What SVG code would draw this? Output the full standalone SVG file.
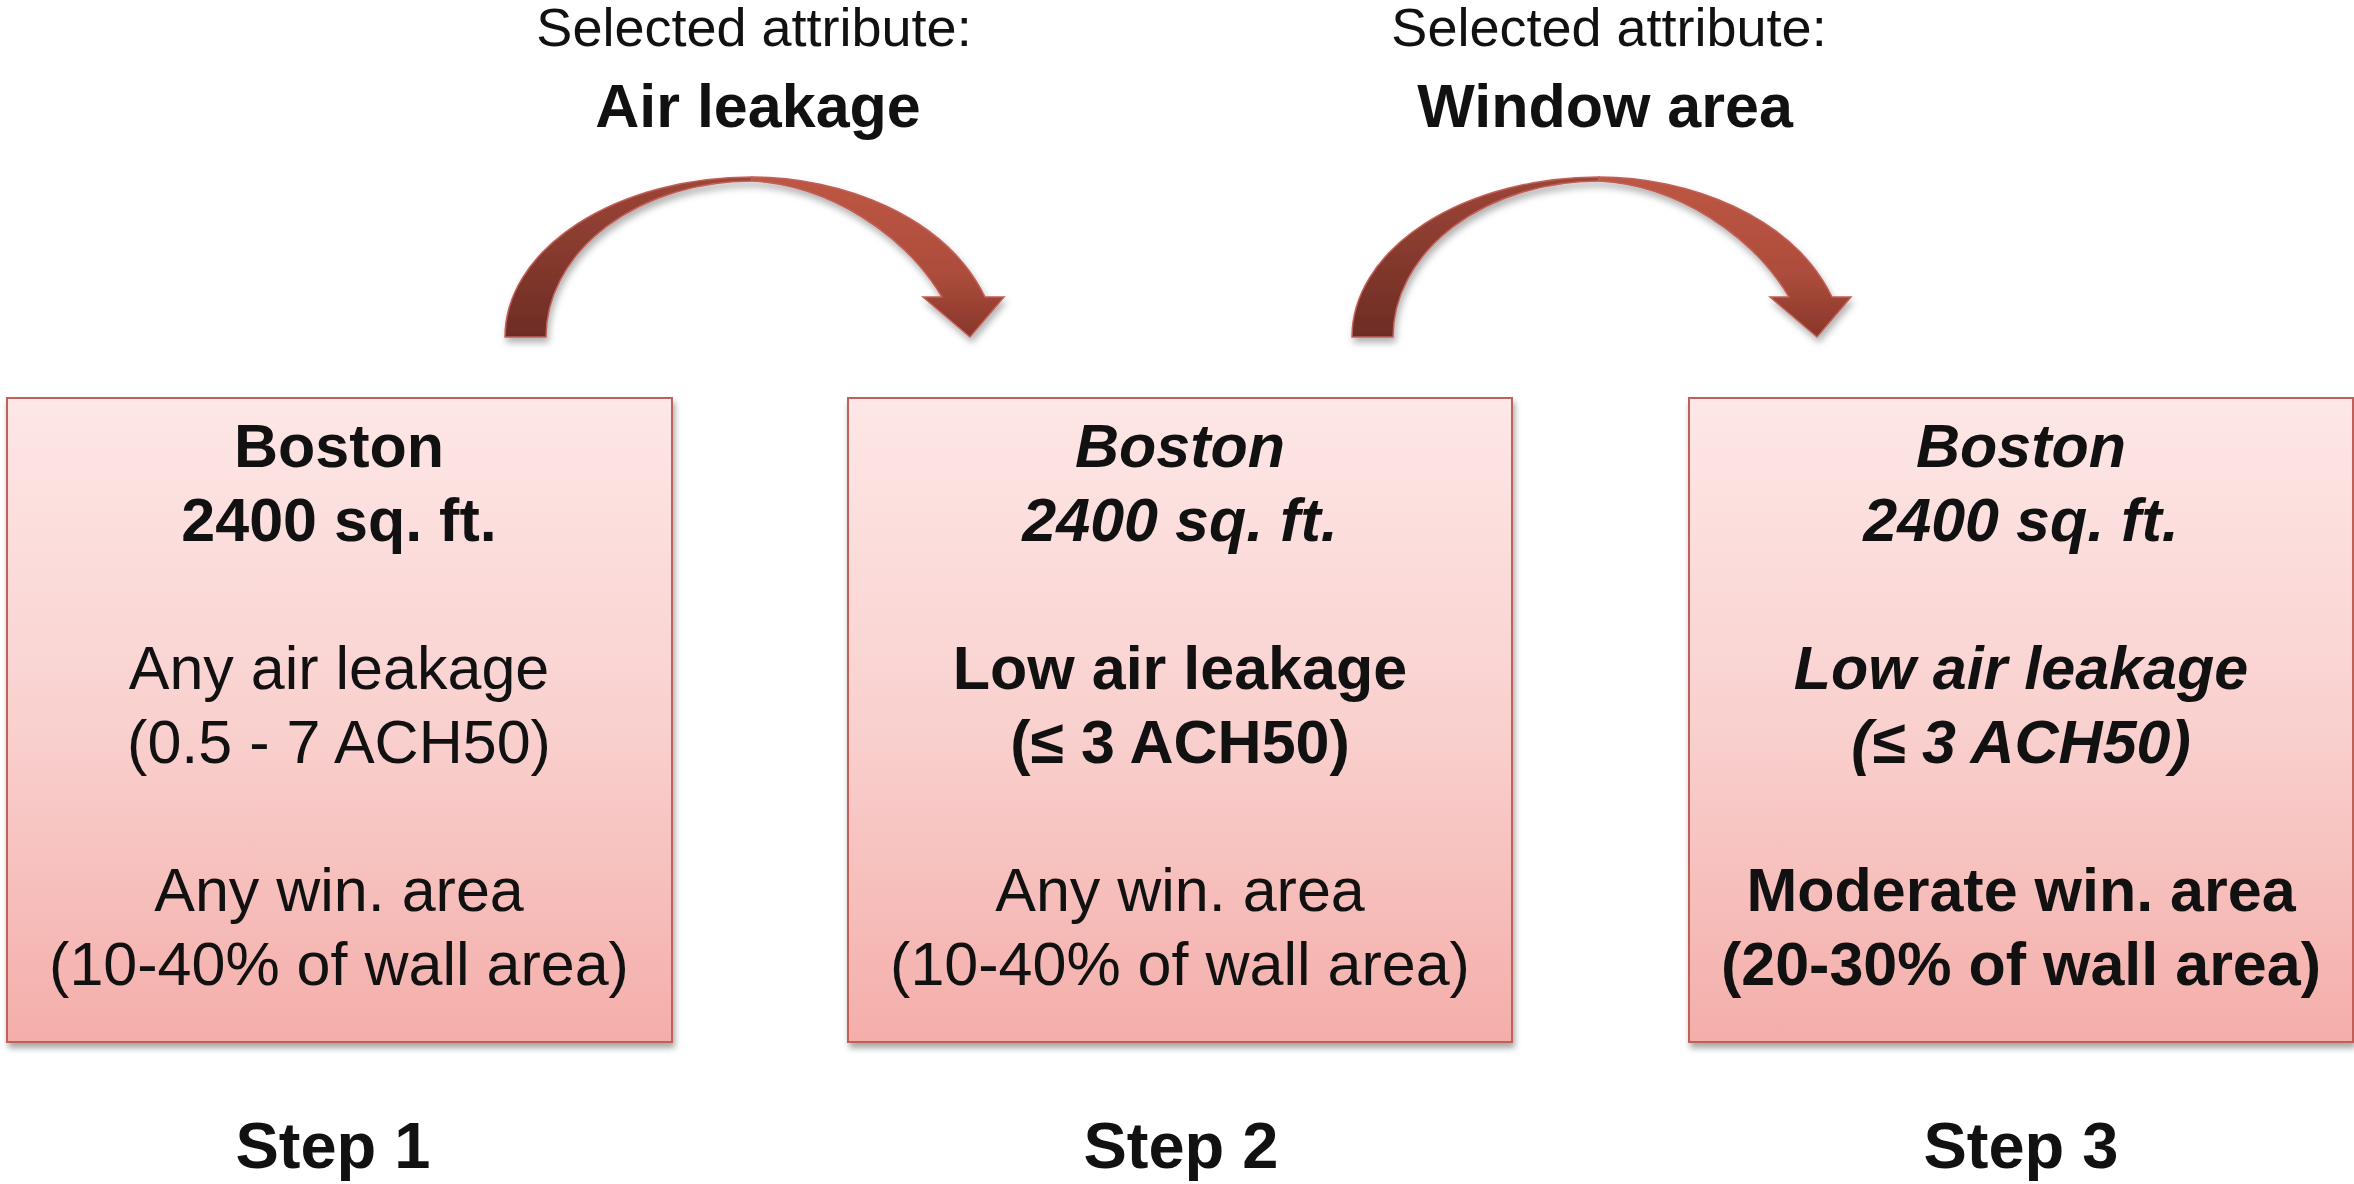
<svg xmlns="http://www.w3.org/2000/svg" width="2354" height="1184" viewBox="0 0 2354 1184">
  <defs>
    <linearGradient id="boxFill" x1="0" y1="0" x2="0" y2="1">
      <stop offset="0" stop-color="#fde7e6"/>
      <stop offset="0.5" stop-color="#f9d1cf"/>
      <stop offset="1" stop-color="#f4aeaa"/>
    </linearGradient>
    <linearGradient id="backFill" gradientUnits="userSpaceOnUse" x1="0" y1="177" x2="0" y2="337">
      <stop offset="0" stop-color="#9d4636"/>
      <stop offset="1" stop-color="#6d2c24"/>
    </linearGradient>
    <linearGradient id="frontFill" gradientUnits="userSpaceOnUse" x1="0" y1="177" x2="0" y2="337">
      <stop offset="0" stop-color="#bd5643"/>
      <stop offset="0.6" stop-color="#ad4d3c"/>
      <stop offset="1" stop-color="#88362a"/>
    </linearGradient>
    <filter id="shadow" x="-5%" y="-5%" width="115%" height="115%">
      <feDropShadow dx="2" dy="5" stdDeviation="3" flood-color="#000" flood-opacity="0.35"/>
    </filter>
    <filter id="arrowShadow" x="-10%" y="-20%" width="125%" height="150%">
      <feDropShadow dx="2" dy="5" stdDeviation="3.5" flood-color="#000" flood-opacity="0.3"/>
    </filter>
    <g id="curvedArrow" filter="url(#arrowShadow)">
      <!-- back half of the ribbon (darker) -->
      <path d="M505,337 A247,160 0 0 1 752,177 L752,181 A206,156 0 0 0 546,337 Z" fill="url(#backFill)" stroke="#c0605a" stroke-width="1.5"/>
      <!-- front half with head -->
      <path d="M752,177 C840,177 945,215 985,297 L1004,297 L970,337 L923,297 L942,297 C905,235 830,185 752,181 Z" fill="url(#frontFill)" stroke="#c0605a" stroke-width="1.5"/>
    </g>
  </defs>
  <style>
    text { font-family: "Liberation Sans", Arial, sans-serif; fill: #111; text-anchor: middle; }
    .body { font-size: 61px; }
    .b { font-weight: bold; }
    .i { font-style: italic; }
    .sel { font-size: 54px; }
    .attr { font-size: 61px; font-weight: bold; }
    .step { font-size: 65px; font-weight: bold; }
    .box { fill: url(#boxFill); stroke: #c0605a; stroke-width: 2; }
  </style>

  <rect width="2354" height="1184" fill="#fff"/>

  <!-- connectors: curved block arrows between the steps -->
  <g id="connectors">
    <use href="#curvedArrow"/>
    <use href="#curvedArrow" transform="translate(847,0)"/>
  </g>

  <!-- attribute captions over the arrows -->
  <g id="label-air">
    <text class="sel" x="754" y="46">Selected attribute:</text>
    <text class="attr" x="758" y="127">Air leakage</text>
  </g>
  <g id="label-window">
    <text class="sel" x="1609" y="46">Selected attribute:</text>
    <text class="attr" x="1605" y="127">Window area</text>
  </g>

  <g id="step1">
    <rect class="box" x="7" y="398" width="665" height="644" filter="url(#shadow)"/>
    <text class="body b" x="339" y="467">Boston</text>
    <text class="body b" x="339" y="541">2400 sq. ft.</text>
    <text class="body" x="339" y="689">Any air leakage</text>
    <text class="body" x="339" y="763">(0.5 - 7 ACH50)</text>
    <text class="body" x="339" y="911">Any win. area</text>
    <text class="body" x="339" y="985">(10-40% of wall area)</text>
    <text class="step" x="333" y="1168">Step 1</text>
  </g>

  <g id="step2">
    <rect class="box" x="848" y="398" width="664" height="644" filter="url(#shadow)"/>
    <text class="body b i" x="1180" y="467">Boston</text>
    <text class="body b i" x="1180" y="541">2400 sq. ft.</text>
    <text class="body b" x="1180" y="689">Low air leakage</text>
    <text class="body b" x="1180" y="763">(≤ 3 ACH50)</text>
    <text class="body" x="1180" y="911">Any win. area</text>
    <text class="body" x="1180" y="985">(10-40% of wall area)</text>
    <text class="step" x="1181" y="1168">Step 2</text>
  </g>

  <g id="step3">
    <rect class="box" x="1689" y="398" width="664" height="644" filter="url(#shadow)"/>
    <text class="body b i" x="2021" y="467">Boston</text>
    <text class="body b i" x="2021" y="541">2400 sq. ft.</text>
    <text class="body b i" x="2021" y="689">Low air leakage</text>
    <text class="body b i" x="2021" y="763">(≤ 3 ACH50)</text>
    <text class="body b" x="2021" y="911">Moderate win. area</text>
    <text class="body b" x="2021" y="985">(20-30% of wall area)</text>
    <text class="step" x="2021" y="1168">Step 3</text>
  </g>
</svg>
